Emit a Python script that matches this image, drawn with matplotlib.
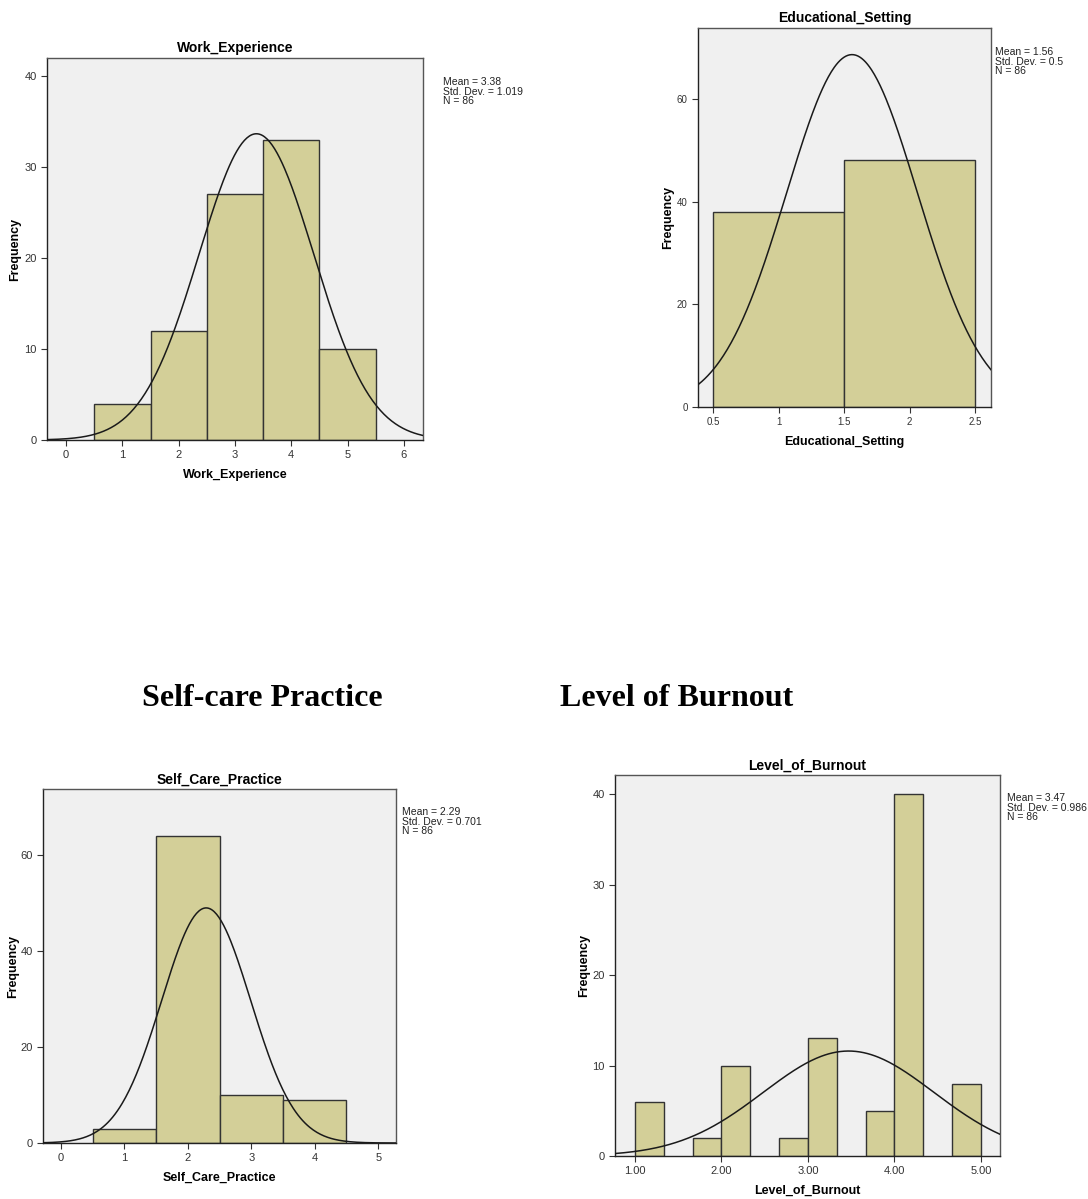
import numpy as np
import matplotlib as mpl
mpl.use('Agg')
import matplotlib.pyplot as plt

plt.rcParams['font.family'] = ['Liberation Sans', 'DejaVu Sans']

# data
work_lefts = [0.5, 1.5, 2.5, 3.5, 4.5]
work_counts = [4, 12, 27, 33, 10]
work_stats = (3.38, 1.019, 86)

edu_lefts = [0.5, 1.5]
edu_counts = [38, 48]
edu_stats = (1.56, 0.5, 86)

self_lefts = [0.5, 1.5, 2.5, 3.5]
self_counts = [3, 64, 10, 9]
self_stats = (2.29, 0.701, 86)

burn_lefts = [1.0, 5/3, 2.0, 8/3, 3.0, 11/3, 4.0, 14/3]
burn_counts = [6, 2, 10, 2, 13, 5, 40, 8]
burn_stats = (3.47, 0.986, 86)

W, H = 1088, 1199
BAR = '#d3cf98'
BG = '#f0f0f0'
EDGE = '#333333'


def px_axes(fig, box):
    left, right, top, bottom = box
    return fig.add_axes([left / W, 1 - bottom / H, (right - left) / W, (bottom - top) / H])


def draw_hist(fig, box, lefts, counts, width, stats, xlim, ylim, xticks, yticks,
              xticklabels, name, ylab_x, stats_xy, tick_fs=8, lab_fs=9):
    ax = px_axes(fig, box)
    left, right, top, bottom = box
    mean, sd, n = stats
    ax.set_facecolor(BG)
    ax.bar(lefts, counts, width=width, align='edge', color=BAR,
           edgecolor=EDGE, linewidth=1.0, zorder=2)
    xs = np.linspace(xlim[0], xlim[1], 300)
    ys = n * width * np.exp(-0.5 * ((xs - mean) / sd) ** 2) / (sd * np.sqrt(2 * np.pi))
    ax.plot(xs, ys, color='#1a1a1a', lw=1.1, zorder=3)
    ax.set_xlim(*xlim)
    ax.set_ylim(*ylim)
    ax.set_xticks(xticks)
    ax.set_xticklabels(xticklabels)
    ax.set_yticks(yticks)
    ax.tick_params(axis='both', labelsize=tick_fs, colors='#333333', length=4, width=0.8)
    for s in ax.spines.values():
        s.set_color('#555555')
        s.set_linewidth(1.0)
    ax.spines['bottom'].set_color('#222222')
    ax.spines['left'].set_color('#222222')
    ax.set_title(name, fontsize=10, fontweight='bold', pad=4)
    ax.set_xlabel(name, fontsize=lab_fs, fontweight='bold', labelpad=6)
    ax.set_ylabel('Frequency', fontsize=lab_fs, fontweight='bold')
    ax.yaxis.set_label_coords((ylab_x - left) / (right - left), 0.5)
    txt = 'Mean = %s\nStd. Dev. = %s\nN = %d' % (mean, sd, n)
    fig.text(stats_xy[0] / W, 1 - stats_xy[1] / H, txt, fontsize=7.5, va='top',
             ha='left', linespacing=0.95, color='#222222')
    return ax


fig = plt.figure(figsize=(W / 100, H / 100), dpi=100)

draw_hist(fig, (47, 423, 58, 440), work_lefts, work_counts, 1.0, work_stats,
          (-0.34, 6.34), (0, 42), range(0, 7), range(0, 41, 10),
          [str(v) for v in range(0, 7)], 'Work_Experience', 21, (443, 77))

draw_hist(fig, (698, 991, 28, 407), edu_lefts, edu_counts, 1.0, edu_stats,
          (0.385, 2.62), (0, 73.8), [0.5, 1, 1.5, 2, 2.5], range(0, 61, 20),
          ['0.5', '1', '1.5', '2', '2.5'], 'Educational_Setting', 674, (995, 47),
          tick_fs=7)

draw_hist(fig, (43, 396, 789, 1143), self_lefts, self_counts, 1.0, self_stats,
          (-0.28, 5.28), (0, 73.7), range(0, 6), range(0, 61, 20),
          [str(v) for v in range(0, 6)], 'Self_Care_Practice', 19, (402, 807))

draw_hist(fig, (615, 1000, 775, 1156), burn_lefts, burn_counts, 1/3, burn_stats,
          (0.77, 5.22), (0, 42.1), [1, 2, 3, 4, 5], range(0, 41, 10),
          ['1.00', '2.00', '3.00', '4.00', '5.00'], 'Level_of_Burnout', 590, (1007, 793))

fig.text(262 / W, 1 - 698 / H, 'Self-care Practice', family='Liberation Serif',
         fontweight='bold', fontsize=23, ha='center', va='center')
fig.text(677 / W, 1 - 698 / H, 'Level of Burnout', family='Liberation Serif',
         fontweight='bold', fontsize=23, ha='center', va='center')

fig.savefig('out.png', dpi=100, facecolor='white')
